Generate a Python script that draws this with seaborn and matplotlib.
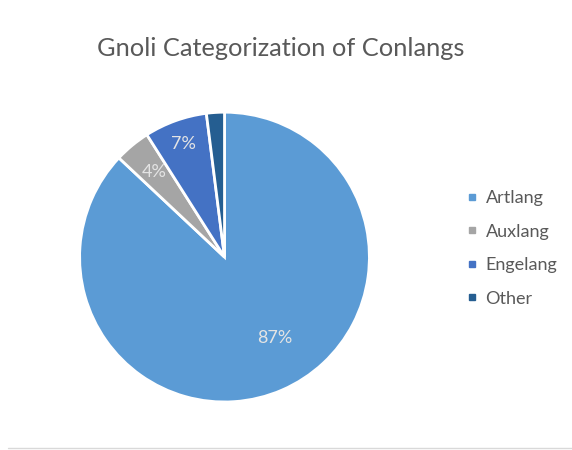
import numpy as np
import matplotlib
matplotlib.use("Agg")
import matplotlib.pyplot as plt
from matplotlib.lines import Line2D
import seaborn as sns

# Share of conlangs per Gnoli category (percent)
categories = ["Artlang", "Auxlang", "Engelang", "Other"]
shares = [87, 4, 7, 2]
pct_labels = ["87%", "4%", "7%", ""]

sns.set_theme(style="white")
plt.rcParams["font.family"] = ["Lato", "DejaVu Sans"]

palette = sns.color_palette(["#5B9BD5", "#A5A5A5", "#4472C4", "#255E91"])

fig = plt.figure(figsize=(5.72, 4.5), dpi=100)
fig.patch.set_facecolor("white")

# square axes holding the pie
ax = fig.add_axes([0.139, 0.1067, 0.507, 0.644])
wedges, _ = ax.pie(
    shares,
    colors=palette,
    startangle=90,
    counterclock=False,
    radius=1.0,
    wedgeprops=dict(edgecolor="white", linewidth=2.0),
)
ax.set_xlim(-1, 1)
ax.set_ylim(-1, 1)
ax.set_aspect("equal")
ax.axis("off")

# percentage labels inside the slices: (radial distance, angular shift in degrees)
label_place = [(0.66, 8.5), (0.76, 0.0), (0.83, 0.0), (0.8, 0.0)]
for w, txt, (dist, shift) in zip(wedges, pct_labels, label_place):
    if not txt:
        continue
    mid = np.deg2rad((w.theta1 + w.theta2) / 2 + shift)
    ax.text(dist * np.cos(mid), dist * np.sin(mid), txt,
            ha="center", va="center", fontsize=13, color="#E4E4E4")

fig.text(0.491, 0.893, "Gnoli Categorization of Conlangs",
         ha="center", va="center", fontsize=18.3, color="#595959")

handles = [Line2D([0], [0], marker="s", linestyle="none", markersize=5,
                  markerfacecolor=c, markeredgecolor=c) for c in palette]
fig.legend(handles, categories, loc="center left",
           bbox_to_anchor=(0.8, 0.448), frameon=False, fontsize=13,
           labelspacing=0.97, handlelength=0.6, handletextpad=0.45,
           borderpad=0, labelcolor="#595959")

# thin chart border along the bottom
fig.add_artist(Line2D([0.014, 1.0], [0.005, 0.005], transform=fig.transFigure,
                      color="#D9D9D9", linewidth=1.0))

fig.savefig("out.png", dpi=100, facecolor="white")
